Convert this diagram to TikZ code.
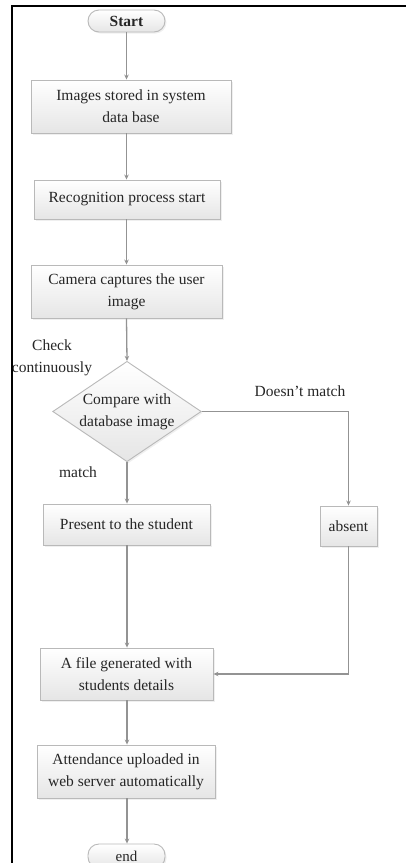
\documentclass[tikz,border=0pt]{standalone}
\usepackage{fontspec}
\setmainfont{Liberation Serif}
\usetikzlibrary{shapes.geometric,arrows.meta,shadows}
\begin{document}
\begin{tikzpicture}[x=1pt,y=-1pt,
  txt/.style={font=\fontsize{15.5}{22}\selectfont, align=center, text=black!85},
  box/.style={txt, draw=gray!55, line width=0.9pt, top color=white, bottom color=gray!20, inner sep=0pt,
    drop shadow={opacity=0.12, shadow xshift=1.5pt, shadow yshift=-1.5pt}},
  term/.style={box, rounded corners=11pt},
  dec/.style={box, diamond, aspect=1.48},
  arr/.style={draw=gray!85, line width=1.3pt, -{Stealth[length=5pt,width=4.5pt]}},
  lab/.style={txt, inner sep=0pt}]
\useasboundingbox (0,0) rectangle (406,863);
\fill[white] (0,0) rectangle (406,863);
\node[term, minimum width=77pt, minimum height=22pt, font=\fontsize{15.5}{22}\selectfont\bfseries] (start) at (126.5,21) {Start};
\node[box, minimum width=200pt, minimum height=53pt] (b1) at (131,106.5) {Images stored in system\\data base};
\node[box, minimum width=186pt, minimum height=39pt] (b2) at (127,199.5) {Recognition process start};
\node[box, minimum width=191pt, minimum height=53pt] (b3) at (126.5,291.5) {Camera captures the user\\image};
\node[dec, minimum width=144pt, minimum height=97pt] (dia) at (127,411.5) {Compare with\\database image};
\node[box, minimum width=167pt, minimum height=41pt] (pres) at (126.5,524.5) {Present to the student};
\node[box, minimum width=57pt, minimum height=40pt] (abs) at (348.5,526) {absent};
\node[box, minimum width=173pt, minimum height=52pt] (file) at (126.5,674) {A file generated with\\students details};
\node[box, minimum width=178pt, minimum height=53pt] (att) at (126,771.5) {Attendance uploaded in\\web server automatically};
\node[term, minimum width=77pt, minimum height=24pt, font=\fontsize{15}{20}\selectfont] (end) at (126.5,856) {end};
\node[lab] (lcheck) at (52,358) {Check\\continuously};
\node[lab] (ldm) at (300,391) {Doesn’t match};
\node[lab] (lm) at (78,472) {match};
\draw[arr] (start.south) -- (start.south |- b1.north);
\draw[arr] (start.south |- b1.south) -- (start.south |- b2.north);
\draw[arr] (start.south |- b2.south) -- (start.south |- b3.north);
\draw[arr] (start.south |- b3.south) -- (dia.north);
\draw[arr] (dia.south) -- (dia.south |- pres.north);
\draw[arr] (dia.east) -| (abs.north);
\draw[arr] (dia.south |- pres.south) -- (dia.south |- file.north);
\draw[arr] (abs.south) |- (file.east);
\draw[arr] (dia.south |- file.south) -- (dia.south |- att.north);
\draw[arr] (dia.south |- att.south) -- (dia.south |- end.north);
\draw[line width=2pt] (12,863) -- (12,6) -- (406,6);
\end{tikzpicture}
\end{document}
